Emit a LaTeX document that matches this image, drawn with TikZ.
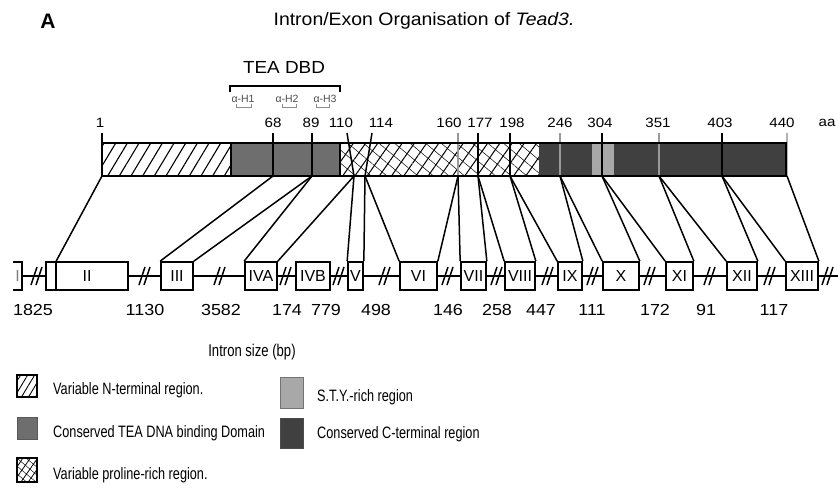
\documentclass[tikz,border=0pt]{standalone}
\usepackage{fontspec}
\setmainfont{Liberation Sans}
\newfontfamily\condfont[FakeStretch=0.77]{Liberation Sans}
\newfontfamily\widefont[FakeStretch=1.12]{Liberation Sans}
\newfontfamily\titlefont[FakeStretch=1.08]{Liberation Sans}
\usetikzlibrary{patterns.meta}

\definecolor{teagray}{HTML}{6E6E6E}
\definecolor{ctermgray}{HTML}{404040}
\definecolor{stygray}{HTML}{A8A8A8}
\definecolor{tickgray}{HTML}{9A9A9A}

\tikzset{
  exon/.style={draw=black, line width=1.7pt, fill=white, minimum height=28pt, inner sep=0pt,
    font=\fontsize{16}{16}\selectfont},
  conn/.style={line width=1.5pt},
  tickline/.style={line width=1.5pt},
  ticklabel/.style={font=\widefont\fontsize{13.5}{13.5}\selectfont, inner sep=0pt},
  intronlabel/.style={font=\widefont\fontsize{16}{16}\selectfont, inner sep=0pt},
  legendtext/.style={font=\condfont\fontsize{16.5}{16.5}\selectfont, anchor=west, inner sep=0pt},
  helixlabel/.style={font=\fontsize{10.5}{10.5}\selectfont, text=black!70, inner sep=0pt},
  nhatch/.style={pattern={Lines[angle=59,distance=10pt,line width=1.1pt]}},
  nhatchsmall/.style={pattern={Lines[angle=59,distance=6pt,line width=0.9pt]}},
  prohatch/.style={pattern={Lines[angle=55,distance=10pt,line width=1pt]},
    preaction={pattern={Lines[angle=-40,distance=10pt,line width=0.5pt]}}},
  prohatchsmall/.style={pattern={Lines[angle=55,distance=6pt,line width=0.8pt]},
    preaction={pattern={Lines[angle=-40,distance=6pt,line width=0.45pt]}}},
  brkline/.style={line width=1.5pt},
  intronbreak/.pic={\draw[brkline] (-6,9)--(0,-9); \draw[brkline] (-1,9)--(5,-9);}
}

\begin{document}
\begin{tikzpicture}[x=1pt,y=-1pt]
\useasboundingbox (0,0) rectangle (838,491);
\fill[white] (0,0) rectangle (838,491);

% heading
\node[font=\bfseries\fontsize{21}{21}\selectfont, inner sep=0pt] (panel) at (48,21) {A};
\node[font=\titlefont\fontsize{18}{18}\selectfont, inner sep=0pt] (title) at (424,21)
  {Intron/Exon Organisation of \itshape Tead3.};

% TEA DBD bracket
\node[font=\titlefont\fontsize{17.5}{17.5}\selectfont, inner sep=0pt] (tea) at (284,67) {TEA DBD};
\draw[line width=1.5pt] (230,92) -- (230,86) -- (340,86) -- (340,92);
\node[helixlabel] (h1) at (243,99) {α-H1};
\node[helixlabel] (h2) at (287,99) {α-H2};
\node[helixlabel] (h3) at (325,99) {α-H3};
\draw[black!45, line width=0.6pt] (236,104) -- (236,107) -- (251,107) -- (251,104);
\draw[black!45, line width=0.6pt] (282,104) -- (282,107) -- (296,107) -- (296,104);
\draw[black!45, line width=0.6pt] (316,104) -- (316,107) -- (329,107) -- (329,104);

% protein bar
\fill[white] (102,143) rectangle (786,176);
\path[nhatch] (102,143) rectangle (231,176);
\fill[teagray] (231,143) rectangle (340,176);
\path[prohatch] (340,143) rectangle (539,176);
\fill[ctermgray] (539,143) rectangle (786,176);
\fill[stygray] (592,143) rectangle (614,176);

% ticks
\draw[tickline] (102,133) -- (102,143);
\draw[tickline] (273,133) -- (273,176);
\draw[tickline] (312,133) -- (312,176);
\draw[tickline] (347,133) -- (354,176);
\draw[tickline] (372,133) -- (365,176);
\draw[tickline, tickgray] (458,133) -- (458,176);
\draw[tickline] (478,133) -- (478,176);
\draw[tickline] (510,133) -- (510,176);
\draw[tickline, tickgray] (560,133) -- (560,176);
\draw[tickline] (602,133) -- (602,176);
\draw[tickline, tickgray] (659,133) -- (659,176);
\draw[tickline] (722,133) -- (722,176);
\draw[tickline, black!30] (787,133) -- (787,176);

\draw[line width=1.7pt] (102,143) rectangle (786,176);
\draw[line width=1.7pt] (231,143) -- (231,176);
\draw[line width=1.7pt] (340,143) -- (340,176);

% residue numbers
\foreach \nm/\xx/\t in {n1/100/1, n68/273/68, n89/311/89, n110/341/110, n114/381/114,
  n160/449/160, n177/480/177, n198/512/198, n246/560/246, n304/600/304,
  n351/658/351, n403/720/403, n440/782/440, naa/827/aa}
  \node[ticklabel] (\nm) at (\xx,123) {\t};

% bar-bottom coordinates
\coordinate (b1) at (102,176);
\coordinate (b68) at (273,176);
\coordinate (b89) at (312,176);
\coordinate (b110) at (354,176);
\coordinate (b114) at (365,176);
\coordinate (b160) at (458,176);
\coordinate (b177) at (478,176);
\coordinate (b198) at (510,176);
\coordinate (b246) at (560,176);
\coordinate (b304) at (602,176);
\coordinate (b351) at (659,176);
\coordinate (b403) at (722,176);
\coordinate (b440) at (787,176);

% gene: intron line
\node[inner sep=0pt, minimum width=9pt, minimum height=28pt, text=black!50,
  font=\fontsize{16}{16}\selectfont] (ex1) at (17.5,276) {I};
\draw[line width=1.3pt] (ex1.east) -- (838,276);
\draw[line width=1.7pt] (ex1.north west) -- (ex1.north east) -- (ex1.south east) -- (ex1.south west);

% exons
\foreach \nm/\a/\b/\t in {ex2/46/128/II, ex3/161/193/III, ex4a/245/277/IVA, ex4b/296/330/IVB,
  ex5/348/363/V, ex6/400/437/VI, ex7/461/486/VII, ex8/505/535/VIII, ex9/558/582/IX,
  ex10/603/639/X, ex11/666/693/XI, ex12/727/757/XII, ex13/786/818/XIII}
  \node[exon, minimum width={(\b-\a)*1pt}] (\nm) at ({(\a+\b)/2},276) {\t};
\coordinate (ex2in) at ([xshift=11pt]ex2.north west);
\draw[line width=1.7pt] (ex2in) -- (ex2in |- ex2.south);

% intron breaks
\foreach \xx in {37,145,220,286,339,385,448,497,548,593,650,710,770,828}
  \pic at (\xx,276) {intronbreak};

% connectors
\draw[conn] (b1) -- (ex2in);
\draw[conn] (b68) -- (ex3.north west);
\draw[conn] (b89) -- (ex3.north east);
\draw[conn] (b89) -- (ex4a.north west);
\draw[conn] (b110) -- (ex4a.north east);
\draw[conn] (b110) -- (ex5.north west);
\draw[conn] (b114) -- (ex5.north east);
\draw[conn] (b114) -- (ex6.north west);
\draw[conn] (b160) -- (ex6.north east);
\draw[conn] (b160) -- (ex7.north west);
\draw[conn] (b177) -- (ex7.north east);
\draw[conn] (b177) -- (ex8.north west);
\draw[conn] (b198) -- (ex8.north east);
\draw[conn] (b198) -- (ex9.north west);
\draw[conn] (b246) -- (ex9.north east);
\draw[conn] (b246) -- (ex10.north west);
\draw[conn] (b304) -- (ex10.north east);
\draw[conn] (b304) -- (ex11.north west);
\draw[conn] (b351) -- (ex11.north east);
\draw[conn] (b351) -- (ex12.north west);
\draw[conn] (b403) -- (ex12.north east);
\draw[conn] (b403) -- (ex13.north west);
\draw[conn] (b440) -- (ex13.north east);

% intron sizes
\foreach \nm/\xx/\t in {i1/33/1825, i2/145/1130, i3/221/3582, i4/287/174, i5/326/779, i6/376/498,
  i7/448/146, i8/497/258, i9/541/447, i10/592/111, i11/655/172, i12/706/91, i13/774/117}
  \node[intronlabel] (\nm) at (\xx,310) {\t};

\node[font=\condfont\fontsize{17}{17}\selectfont, inner sep=0pt] (isize) at (252,352) {Intron size (bp)};

% legend
\path[nhatchsmall] (17,375) rectangle (37,397);
\draw[line width=1.2pt] (17,375) rectangle (37,397);
\node[legendtext] (leg1) at (53,390) {Variable N-terminal region.};

\fill[teagray] (17,417) rectangle (37,439);
\draw[teagray!80!black, line width=0.8pt] (17,417) rectangle (37,439);
\node[legendtext] (leg2) at (53,433) {Conserved TEA DNA binding Domain};

\path[prohatchsmall] (17,458) rectangle (37,482);
\draw[line width=1.2pt] (17,458) rectangle (37,482);
\node[legendtext] (leg3) at (53,475) {Variable proline-rich region.};

\fill[stygray] (280,377) rectangle (303,408);
\draw[black!55, line width=1pt] (280,377) rectangle (303,408);
\node[legendtext] (leg4) at (317,397) {S.T.Y.-rich region};

\fill[ctermgray] (280,418) rectangle (303,448);
\draw[black!70, line width=0.8pt] (280,418) rectangle (303,448);
\node[legendtext] (leg5) at (317,434) {Conserved C-terminal region};
\end{tikzpicture}
\end{document}
